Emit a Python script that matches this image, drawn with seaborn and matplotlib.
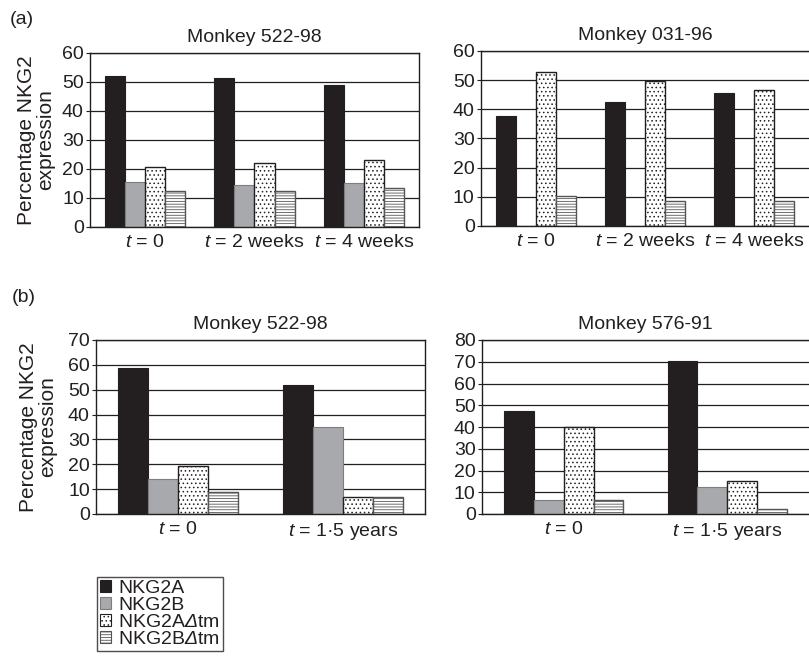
import numpy as np
import pandas as pd
import matplotlib
matplotlib.use("Agg")
import matplotlib.pyplot as plt
from matplotlib.patches import Patch
import seaborn as sns

# Transcript series and sampling points
series = ["NKG2A", "NKG2B", "NKG2AΔtm", "NKG2BΔtm"]
legend_labels = ["NKG2A", "NKG2B", r"NKG2A$\Delta$tm", r"NKG2B$\Delta$tm"]
weeks_labels = ["$t$ = 0", "$t$ = 2 weeks", "$t$ = 4 weeks"]
years_labels = ["$t$ = 0", "$t$ = 1·5 years"]

# (a) Monkey 522-98, short-term follow-up
a522_nkg2a = [52.0, 51.4, 48.9]
a522_nkg2b = [15.5, 14.5, 15.1]
a522_nkg2a_dtm = [20.6, 22.1, 23.2]
a522_nkg2b_dtm = [12.4, 12.4, 13.6]

# (a) Monkey 031-96 (no NKG2B detected)
a031_nkg2a = [37.6, 42.5, 45.5]
a031_nkg2b = [0.0, 0.0, 0.0]
a031_nkg2a_dtm = [52.7, 49.7, 46.5]
a031_nkg2b_dtm = [10.3, 8.4, 8.4]

# (b) Monkey 522-98, long-term follow-up
b522_nkg2a = [58.7, 51.8]
b522_nkg2b = [14.1, 34.9]
b522_nkg2a_dtm = [19.3, 7.0]
b522_nkg2b_dtm = [8.7, 7.0]

# (b) Monkey 576-91
b576_nkg2a = [47.4, 70.5]
b576_nkg2b = [6.4, 12.2]
b576_nkg2a_dtm = [40.1, 15.1]
b576_nkg2b_dtm = [6.4, 2.4]

sns.set_theme(style="white")
plt.rcParams["font.family"] = ["Liberation Sans", "DejaVu Sans"]
# italic t and italic Delta inside math segments
plt.rcParams["mathtext.fontset"] = "custom"
plt.rcParams["mathtext.rm"] = "Liberation Sans:italic"
plt.rcParams["mathtext.it"] = "Liberation Sans:italic"
plt.rcParams["hatch.linewidth"] = 0.6

FS = 14
INK = "#231f20"
W, H = 809, 656
fig = plt.figure(figsize=(W / 100, H / 100), dpi=100)


def fig_axes(x0, x1, ytop, ybot):
    return fig.add_axes([x0 / W, 1 - ybot / H, (x1 - x0) / W, (ybot - ytop) / H])


styles = [
    dict(facecolor=INK, edgecolor=INK, hatch=None, lw=0.8),
    dict(facecolor="#a7a9ac", edgecolor="#7d7e82", hatch=None, lw=0.8),
    dict(facecolor="white", edgecolor=INK, hatch="....", lw=1.0),
    dict(facecolor="white", edgecolor="#555555", hatch="------", lw=1.0),
]


def panel(ax, labels, values, title, ymax, right_spine=True):
    df = pd.DataFrame({
        "time": np.repeat(labels, len(series)).tolist(),
        "series": series * len(labels),
        "value": np.array(values).T.ravel(),
    })
    sns.barplot(data=df, x="time", y="value", hue="series", order=labels,
                hue_order=series, width=0.73, errorbar=None, saturation=1,
                legend=False, ax=ax, zorder=2)
    for cont, st in zip(ax.containers, styles):
        for p in cont.patches:
            p.set_facecolor(st["facecolor"])
            p.set_edgecolor(st["edgecolor"])
            p.set_linewidth(st["lw"])
            if st["hatch"]:
                p.set_hatch(st["hatch"])
            if p.get_height() == 0:
                p.set_visible(False)
    n = len(labels)
    ax.set_xlim(-0.5, n - 0.5)
    ax.set_ylim(0, ymax)
    ax.set_yticks(np.arange(0, ymax + 1, 10))
    ax.set_xticks(np.arange(0.5, n - 0.5, 1), minor=True)
    ax.set_xticklabels(labels)
    ax.tick_params(axis="x", which="major", length=0, pad=5, labelsize=FS, colors=INK)
    ax.tick_params(axis="x", which="minor", length=3, width=0.8, direction="out", color=INK)
    ax.tick_params(axis="y", length=3, width=0.8, pad=1.5, labelsize=FS, left=True,
                   direction="out", colors=INK)
    ax.yaxis.grid(True, color=INK, lw=0.9)
    ax.set_axisbelow(True)
    for s in ax.spines.values():
        s.set_color(INK)
        s.set_linewidth(1.0)
    ax.spines["right"].set_visible(right_spine)
    ax.set_xlabel("")
    ax.set_ylabel("")
    ax.set_title(title, fontsize=FS, pad=8, color=INK)


ax1 = fig_axes(90, 419, 53, 227)
panel(ax1, weeks_labels, [a522_nkg2a, a522_nkg2b, a522_nkg2a_dtm, a522_nkg2b_dtm],
      "Monkey 522-98", 60)
ax2 = fig_axes(481, 809, 51, 226)
panel(ax2, weeks_labels, [a031_nkg2a, a031_nkg2b, a031_nkg2a_dtm, a031_nkg2b_dtm],
      "Monkey 031-96", 60, right_spine=False)
ax3 = fig_axes(96, 425, 340, 514)
panel(ax3, years_labels, [b522_nkg2a, b522_nkg2b, b522_nkg2a_dtm, b522_nkg2b_dtm],
      "Monkey 522-98", 70)
ax4 = fig_axes(482, 809, 340, 514)
panel(ax4, years_labels, [b576_nkg2a, b576_nkg2b, b576_nkg2a_dtm, b576_nkg2b_dtm],
      "Monkey 576-91", 80, right_spine=False)

ylab = "Percentage NKG2\nexpression"
fig.text(36 / W, 1 - 140 / H, ylab, rotation=90, ha="center", va="center",
         fontsize=15, multialignment="center", color=INK, linespacing=1.0)
fig.text(38 / W, 1 - 427 / H, ylab, rotation=90, ha="center", va="center",
         fontsize=15, multialignment="center", color=INK, linespacing=1.0)

fig.text(10 / W, 1 - 20 / H, "(a)", ha="left", va="center", fontsize=FS, color=INK)
fig.text(12 / W, 1 - 297 / H, "(b)", ha="left", va="center", fontsize=FS, color=INK)

handles = [Patch(facecolor=st["facecolor"], edgecolor=st["edgecolor"],
                 hatch=st["hatch"], linewidth=0.8) for st in styles]
leg = fig.legend(handles, legend_labels, loc="upper left",
                 bbox_to_anchor=(97 / W, 1 - 577 / H), fontsize=FS,
                 frameon=True, fancybox=False, borderpad=0.15, labelspacing=0.0,
                 handlelength=0.55, handleheight=0.55, handletextpad=0.4,
                 borderaxespad=0)
leg.get_frame().set_edgecolor(INK)
leg.get_frame().set_linewidth(1.0)
for t in leg.get_texts():
    t.set_color(INK)

fig.savefig("out.png", dpi=100, facecolor="white")
